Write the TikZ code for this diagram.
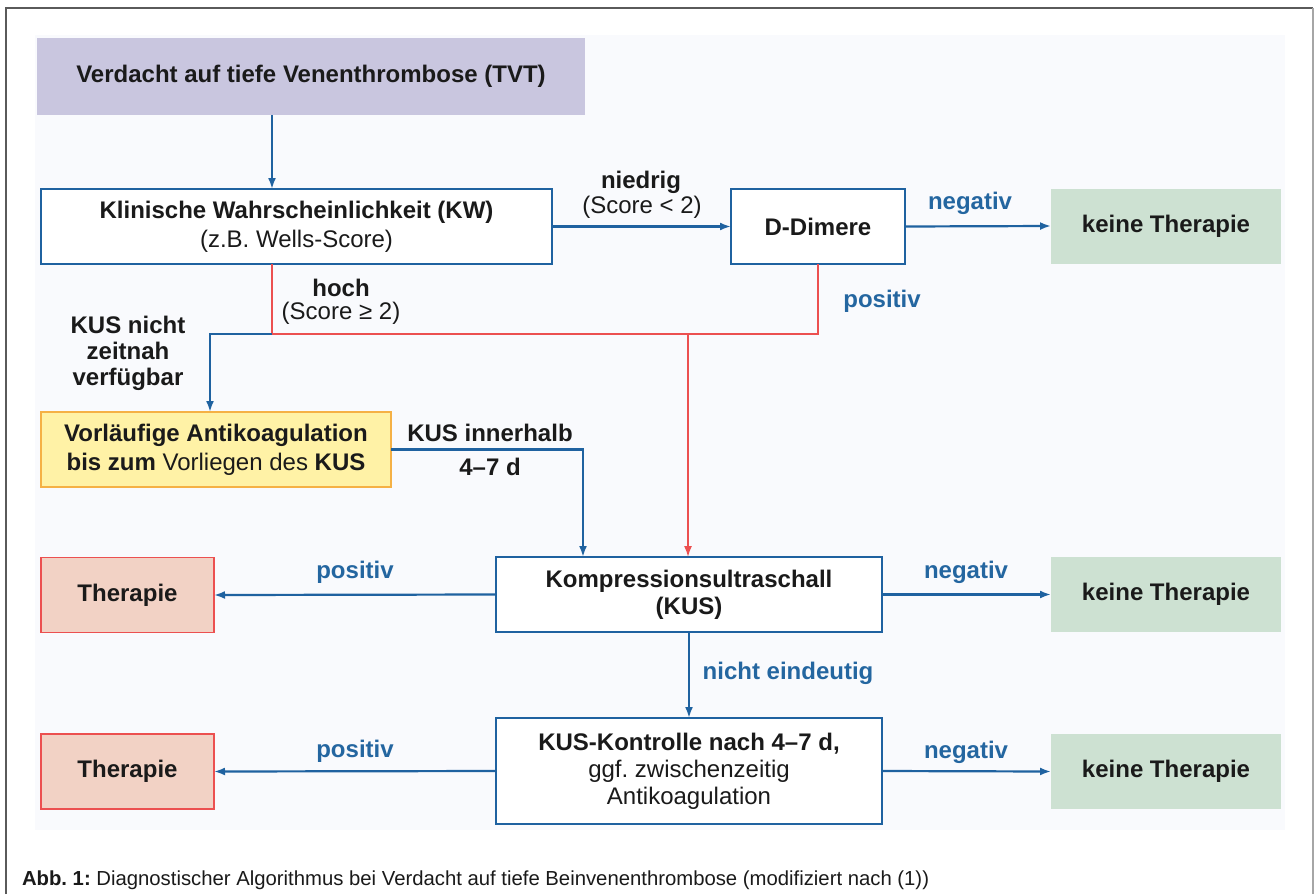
\documentclass[tikz,border=0pt]{standalone}
\usepackage{fontspec}
\setmainfont{Liberation Sans}
\usetikzlibrary{arrows.meta,calc}
\frenchspacing
\definecolor{frameg}{HTML}{5A5A5A}
\definecolor{panelc}{HTML}{F9FAFD}
\definecolor{bblue}{HTML}{1F62A0}
\definecolor{lblue}{HTML}{2466A0}
\definecolor{rred}{HTML}{EC5050}
\definecolor{purp}{HTML}{C9C6DF}
\definecolor{greenf}{HTML}{CDE1D2}
\definecolor{salm}{HTML}{F2D2C5}
\definecolor{yell}{HTML}{FFF2A6}
\definecolor{orng}{HTML}{F5B145}
\definecolor{txt}{HTML}{1A1A1A}
\begin{document}
\begin{tikzpicture}[x=1pt,y=-1pt,
  every node/.style={inner sep=0pt,outer sep=0pt,text=txt,font=\fontsize{24}{29}\selectfont},
  box/.style={draw=bblue,line width=2.6pt,fill=white,minimum width=#1,align=center},
  greenbox/.style={fill=greenf,minimum width=230pt,minimum height=75pt,font=\fontsize{24}{29}\selectfont\bfseries},
  therbox/.style={fill=salm,draw=rred,line width=1.2pt,minimum width=173pt,minimum height=75pt,font=\fontsize{24}{29}\selectfont\bfseries},
  lab/.style={text=lblue,font=\fontsize{24}{29}\selectfont\bfseries},
  blab/.style={font=\fontsize{24}{29}\selectfont\bfseries,align=center},
  rlab/.style={font=\fontsize{24}{29}\selectfont},
  arr/.style={draw=bblue,line width=2.2pt,-{Latex[length=11pt,width=8pt]}},
  rline/.style={draw=rred,line width=1.6pt},
  rarr/.style={draw=rred,line width=1.6pt,-{Latex[length=11pt,width=8pt]}},
]
\useasboundingbox (0,0) rectangle (1316,894);
\fill[white] (0,0) rectangle (1316,894);
% frame
\draw[frameg,line width=1.5pt] (6,894) -- (6,8) -- (1313,8);
\draw[gray!70,line width=2pt] (1313,8) -- (1313,894);
% panel
\fill[panelc] (35,35) rectangle (1285,830);

% nodes
\node[fill=purp,minimum width=548pt,minimum height=77pt,font=\fontsize{24}{29}\selectfont\bfseries] (top) at (311,76.5) {Verdacht auf tiefe Venenthrombose (TVT)};
\node[box=511pt,minimum height=75pt] (kw) at (296.5,226.5) {\textbf{Klinische Wahrscheinlichkeit (KW)}\\(z.B. Wells-Score)};
\node[box=174pt,minimum height=75pt,font=\fontsize{24}{29}\selectfont\bfseries] (dd) at (818,226.5) {D-Dimere};
\node[greenbox] (kt1) at (1166,226) {keine Therapie};
\node[draw=orng,fill=yell,line width=2pt,minimum width=350pt,minimum height=75pt,align=center] (vor) at (216,449.5) {\textbf{Vorläufige Antikoagulation}\\\textbf{bis zum} Vorliegen des \textbf{KUS}};
\node[box=386pt,minimum height=75pt,font=\fontsize{24}{27}\selectfont\bfseries] (kus) at (689,594.5) {Kompressionsultraschall\\(KUS)};
\node[therbox] (th1) at (127.5,595) {Therapie};
\node[greenbox] (kt2) at (1166,594.5) {keine Therapie};
\node[box=386pt,minimum height=106pt,font=\fontsize{24}{27}\selectfont] (kk) at (689,771) {\textbf{KUS-Kontrolle nach 4–7 d,}\\ggf. zwischenzeitig\\Antikoagulation};
\node[therbox] (th2) at (127.5,771.5) {Therapie};
\node[greenbox] (kt3) at (1166,771.5) {keine Therapie};

% helper coordinates
\coordinate (xa) at (272,0);
\coordinate (jl) at (272,334);
\coordinate (jb) at (210,334);
\coordinate (xr) at (688,0);
\coordinate (xv) at (583,0);

% connectors
\draw[arr] (xa |- top.south) -- (xa |- kw.north);
\draw[arr] (kw.east) -- (dd.west);
\draw[arr] (dd.east) -- (kt1.west);
\draw[rline] (jl |- kw.south) -- (jl) -- (dd.south |- jl) -- (dd.south);
\draw[rarr] (xr |- jl) -- (xr |- kus.north);
\draw[arr] (jl) -- (jb) -- (jb |- vor.north);
\draw[arr] (vor.east) -- (xv |- vor.east) -- (xv |- kus.north);
\draw[arr] (kus.west) -- (th1.east);
\draw[arr] (kus.east) -- (kt2.west);
\draw[arr] (kus.south) -- (kk.north);
\draw[arr] (kk.west) -- (th2.east);
\draw[arr] (kk.east) -- (kt3.west);

% labels
\node[blab] (lniedrig) at (641,182) {niedrig};
\node[rlab] (lscore1) at (642,207) {(Score < 2)};
\node[lab] (lneg1) at (970,203) {negativ};
\node[lab] (lpos1) at (882,301) {positiv};
\node[blab] (lhoch) at (341,288) {hoch};
\node[rlab] (lscore2) at (341,313) {(Score ≥ 2)};
\node[blab,font=\fontsize{24}{26}\selectfont\bfseries] (lkusn) at (128,353) {KUS nicht\\zeitnah\\verfügbar};
\node[blab] (lkusi) at (490,433) {KUS innerhalb};
\node[blab] (l47) at (490,467) {4–7 d};
\node[lab] (lpos2) at (355,572) {positiv};
\node[lab] (lneg2) at (966,572) {negativ};
\node[lab] (lnicht) at (788,673) {nicht eindeutig};
\node[lab] (lpos3) at (355,751) {positiv};
\node[lab] (lneg3) at (966,752) {negativ};

% caption
\node[anchor=west,font=\fontsize{20.3}{23}\selectfont] (cap) at (22,880) {\textbf{Abb. 1:} Diagnostischer Algorithmus bei Verdacht auf tiefe Beinvenenthrombose (modifiziert nach (1))};
\end{tikzpicture}
\end{document}
